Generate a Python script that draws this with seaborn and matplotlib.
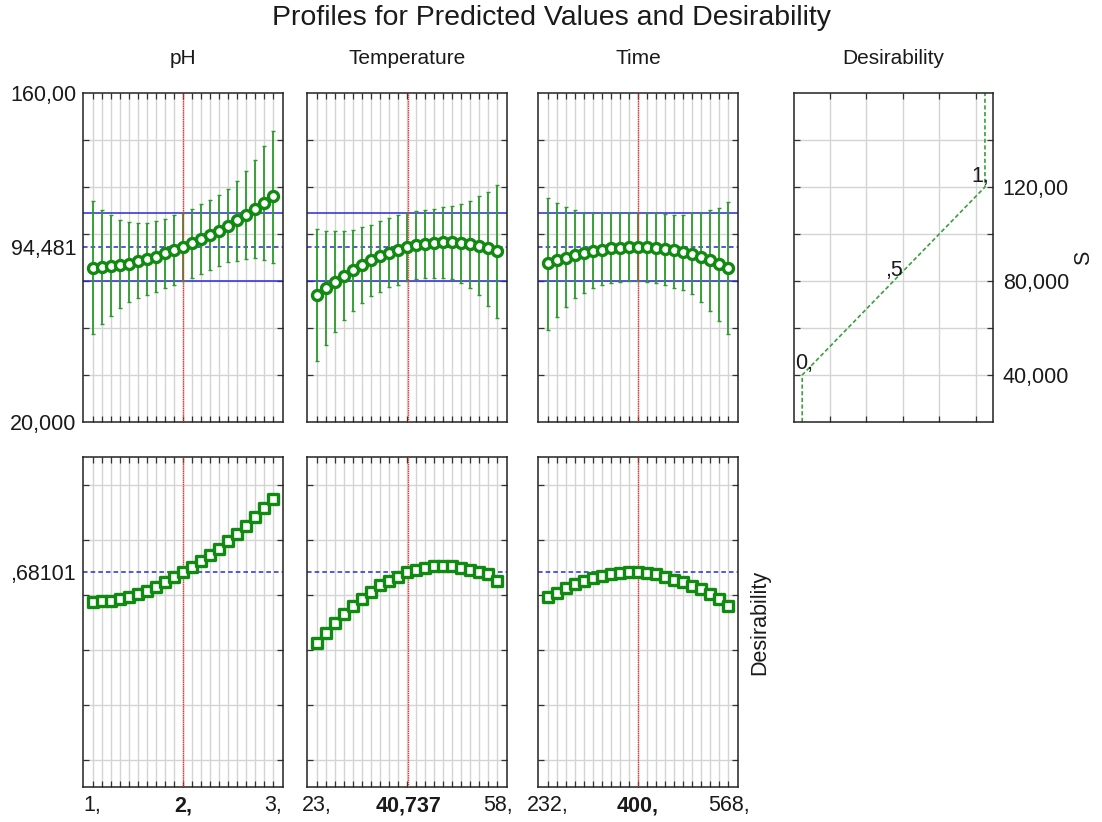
import matplotlib
matplotlib.use("Agg")
import matplotlib.pyplot as plt
import seaborn as sns
import pandas as pd

# ---------------- data ----------------
ph_x = [1.0, 1.1, 1.2, 1.3, 1.4, 1.5, 1.6, 1.7, 1.8, 1.9, 2.0,
        2.1, 2.2, 2.3, 2.4, 2.5, 2.6, 2.7, 2.8, 2.9, 3.0]
temp_x = [23, 24.75, 26.5, 28.25, 30, 31.75, 33.5, 35.25, 37, 38.75, 40.5,
          42.25, 44, 45.75, 47.5, 49.25, 51, 52.75, 54.5, 56.25, 58]
time_x = [232, 248.8, 265.6, 282.4, 299.2, 316, 332.8, 349.6, 366.4, 383.2, 400,
          416.8, 433.6, 450.4, 467.2, 484, 500.8, 517.6, 534.4, 551.2, 568]

ph_s = [85.6, 85.9, 86.2, 86.8, 87.4, 88.3, 89.2, 90.4, 91.8, 93.1, 94.5,
        96.0, 97.7, 99.5, 101.4, 103.5, 105.8, 108.2, 110.8, 113.2, 116.0]
ph_lo = [57.4, 61.7, 65.0, 68.3, 71.0, 72.6, 74.0, 75.4, 76.9, 78.3, 80.0,
         81.1, 83.1, 84.6, 86.4, 87.9, 88.6, 89.3, 89.6, 88.9, 87.6]
ph_hi = [114.0, 110.3, 107.9, 106.0, 105.0, 104.6, 104.6, 105.4, 106.4, 107.9, 109.0,
         110.7, 112.6, 114.6, 116.4, 119.3, 122.4, 126.9, 131.7, 137.4, 144.0]

temp_s = [74.0, 77.0, 79.7, 82.3, 84.7, 86.9, 88.8, 90.5, 92.0, 93.3, 94.5,
          95.3, 95.9, 96.3, 96.5, 96.4, 96.1, 95.6, 94.9, 94.0, 92.8]
temp_lo = [46.0, 52.9, 58.3, 63.6, 67.4, 70.7, 73.6, 75.4, 77.4, 78.3, 80.0,
           80.7, 81.1, 81.1, 81.1, 80.7, 79.0, 76.9, 73.9, 69.3, 64.3]
temp_hi = [102.1, 101.1, 101.1, 101.4, 101.9, 103.1, 104.0, 105.4, 106.9, 107.9, 109.0,
           109.7, 110.3, 110.7, 111.3, 112.1, 112.7, 114.0, 116.1, 117.9, 120.7]

time_s = [87.6, 88.8, 89.9, 91.0, 91.9, 92.7, 93.4, 93.9, 94.2, 94.4, 94.5,
          94.4, 94.1, 93.7, 93.1, 92.3, 91.3, 90.2, 88.9, 87.4, 85.7]
time_lo = [59.3, 64.7, 68.9, 72.9, 75.0, 77.0, 78.1, 79.3, 79.7, 80.0, 80.0,
           79.7, 79.3, 78.1, 77.1, 76.0, 74.3, 71.0, 67.4, 62.9, 57.6]
time_hi = [115.4, 113.1, 111.7, 110.3, 109.1, 109.1, 109.1, 109.1, 109.1, 109.1, 109.0,
           109.1, 108.9, 108.3, 107.9, 107.9, 108.9, 109.1, 110.0, 111.1, 113.6]

ph_d = [0.572, 0.575, 0.578, 0.585, 0.591, 0.602, 0.611, 0.629, 0.646, 0.665, 0.681,
        0.700, 0.721, 0.742, 0.766, 0.793, 0.819, 0.850, 0.882, 0.915, 0.948]
temp_d = [0.423, 0.459, 0.496, 0.529, 0.560, 0.584, 0.609, 0.634, 0.648, 0.663, 0.681,
          0.690, 0.695, 0.703, 0.704, 0.703, 0.698, 0.690, 0.681, 0.673, 0.650]
time_d = [0.590, 0.606, 0.625, 0.638, 0.650, 0.660, 0.669, 0.673, 0.679, 0.681, 0.681,
          0.679, 0.673, 0.665, 0.653, 0.644, 0.631, 0.619, 0.603, 0.584, 0.560]

factors = ["pH", "Temperature", "Time"]
current_x = [2.0, 40.737, 400.0]
x_tick_labels = [["1,", "2,", "3,"], ["23,", "40,737", "58,"], ["232,", "400,", "568,"]]
x_tick_values = [[1.0, 2.0, 3.0], [23, 40.737, 58], [232, 400, 568]]
s_current, s_lower, s_upper = 94.481, 80.0, 109.0
d_current = 0.68101
s_tick_values = [20.0, 94.481, 160.0]
s_tick_labels = ["20,000", "94,481", "160,00"]

desir_s = [20.0, 40.0, 120.0, 160.0]
desir_d = [0.0, 0.0, 1.0, 1.0]
desir_tick_values = [40.0, 80.0, 120.0]
desir_tick_labels = ["40,000", "80,000", "120,00"]
desir_point_labels = ["0,", ",5", "1,"]

# ---------------- style ----------------
sns.set_style("white")
plt.rcParams["font.family"] = ["Liberation Sans", "DejaVu Sans"]

W, H = 1102, 822
fig = plt.figure(figsize=(W / 100, H / 100), dpi=100)

def rect(x0, y0, x1, y1):
    return [x0 / W, 1 - y1 / H, (x1 - x0) / W, (y1 - y0) / H]

GREEN = "#108a10"
EBAR = "#2e9a2e"
GRID = "#d4d4d4"
BLUE = "#2a2ad8"
RED = "#e83030"
TXT = "#1a1a1a"
FS = 15.5

cols = [(83, 283), (307, 507), (538, 738)]
top_y = (93, 422)
bot_y = (457, 787)

xs = [ph_x, temp_x, time_x]
ss = [ph_s, temp_s, time_s]
los = [ph_lo, temp_lo, time_lo]
his = [ph_hi, temp_hi, time_hi]
ds = [ph_d, temp_d, time_d]


def style_axes(ax):
    ax.xaxis.remove_overlapping_locs = False
    ax.yaxis.remove_overlapping_locs = False
    for sp in ax.spines.values():
        sp.set_color("#222222")
        sp.set_linewidth(1.1)
    ax.grid(True, which="major", color=GRID, linewidth=1.0)
    ax.grid(False, which="minor")
    ax.set_axisbelow(True)
    ax.tick_params(which="major", direction="in", length=4, width=0.9,
                   top=True, right=True, bottom=True, left=True,
                   labelbottom=False, labelleft=False, color="#333333")
    ax.tick_params(which="minor", length=0, labelsize=FS, labelcolor=TXT)
    ax.set_xlabel("")
    ax.set_ylabel("")


for i in range(3):
    x = xs[i]
    step = x[1] - x[0]
    xlim = (x[0] - 1.05 * step, x[-1] + 1.05 * step)

    # ---- top: predicted S ----
    ax = fig.add_axes(rect(cols[i][0], top_y[0], cols[i][1], top_y[1]))
    ax.errorbar(x, ss[i], yerr=[[s - l for s, l in zip(ss[i], los[i])],
                                [h - s for s, h in zip(ss[i], his[i])]],
                fmt="none", ecolor=EBAR, elinewidth=1.3, capsize=1.2,
                capthick=1.0, zorder=3)
    df = pd.DataFrame({"x": x, "s": ss[i]})
    sns.scatterplot(data=df, x="x", y="s", ax=ax, marker="o", s=52,
                    facecolor="white", edgecolor=GREEN, linewidth=2.4, zorder=5)
    ax.axhline(s_upper, color=BLUE, lw=1.1, zorder=2)
    ax.axhline(s_lower, color=BLUE, lw=1.1, zorder=2)
    ax.axhline(s_current, color=BLUE, lw=1.1, ls=(0, (3, 2)), zorder=2)
    ax.axvline(current_x[i], color=RED, lw=1.0, ls=(0, (1, 0.6)), zorder=4)
    ax.set_xlim(*xlim)
    ax.set_ylim(20, 160)
    ax.set_xticks(x)
    ax.set_yticks([40, 60, 80, 100, 120, 140])
    style_axes(ax)
    if i == 0:
        ax.set_yticks(s_tick_values, minor=True)
        ax.set_yticklabels(s_tick_labels, minor=True)
        ax.tick_params(which="minor", axis="y", pad=5, labelleft=True)
    fig.text((cols[i][0] + cols[i][1]) / 2 / W, 1 - 58 / H, factors[i],
             ha="center", va="center", fontsize=15, color=TXT)

    # ---- bottom: desirability ----
    ax2 = fig.add_axes(rect(cols[i][0], bot_y[0], cols[i][1], bot_y[1]))
    df2 = pd.DataFrame({"x": x, "d": ds[i]})
    sns.scatterplot(data=df2, x="x", y="d", ax=ax2, marker="s", s=42,
                    facecolor="white", edgecolor=GREEN, linewidth=2.4, zorder=5)
    ax2.axhline(d_current, color=BLUE, lw=1.1, ls=(0, (3, 2)), zorder=2)
    ax2.axvline(current_x[i], color=RED, lw=1.0, ls=(0, (1, 0.6)), zorder=4)
    ax2.set_xlim(*xlim)
    ax2.set_ylim(-0.1, 1.1)
    ax2.set_xticks(x)
    ax2.set_yticks([0.0, 0.2, 0.4, 0.6, 0.8, 1.0])
    style_axes(ax2)
    ax2.set_xticks(x_tick_values[i], minor=True)
    labs = ax2.set_xticklabels(x_tick_labels[i], minor=True)
    ax2.tick_params(which="minor", axis="x", pad=6, labelbottom=True)
    if len(labs) > 1:
        labs[1].set_fontweight("bold")
    if i == 0:
        ax2.set_yticks([d_current], minor=True)
        ax2.set_yticklabels([",68101"], minor=True)
        ax2.tick_params(which="minor", axis="y", pad=5, labelleft=True)

# ---- desirability function panel ----
ax3 = fig.add_axes(rect(794, top_y[0], 993, top_y[1]))
df3 = pd.DataFrame({"d": desir_d, "s": desir_s})
sns.lineplot(data=df3, x="d", y="s", ax=ax3, sort=False, estimator=None,
             color="#3aa03a", lw=1.2, ls=(0, (2.5, 1.5)))
ax3.set_xlim(-0.045, 1.044)
ax3.set_ylim(20, 160)
ax3.set_xticks([0.15, 0.35, 0.55, 0.75, 0.95])
ax3.set_yticks([40, 60, 80, 100, 120, 140])
style_axes(ax3)
ax3.set_yticks(desir_tick_values, minor=True)
ax3.set_yticklabels(desir_tick_labels, minor=True)
ax3.tick_params(which="minor", axis="y", left=False, right=True,
                labelleft=False, labelright=True, pad=7)
ax3.text(-0.037, 40.5, desir_point_labels[0], ha="left", va="bottom",
         fontsize=FS, color=TXT)
ax3.text(0.5, 84.3, desir_point_labels[1], ha="center", va="center",
         fontsize=FS, color=TXT)
ax3.text(0.975, 124.5, desir_point_labels[2], ha="center", va="center",
         fontsize=FS, color=TXT)
fig.text(893.5 / W, 1 - 58 / H, "Desirability", ha="center", va="center",
         fontsize=15, color=TXT)
fig.text(1084 / W, 1 - 258 / H, "S", ha="center", va="center",
         fontsize=FS, rotation=90, color=TXT)
fig.text(760 / W, 1 - 622 / H, "Desirability", ha="center", va="center",
         fontsize=FS, rotation=90, color=TXT)

fig.text(552 / W, 1 - 18 / H, "Profiles for Predicted Values and Desirability",
         ha="center", va="center", fontsize=20.5, color=TXT)

fig.savefig("out.png", dpi=100, facecolor="white")
